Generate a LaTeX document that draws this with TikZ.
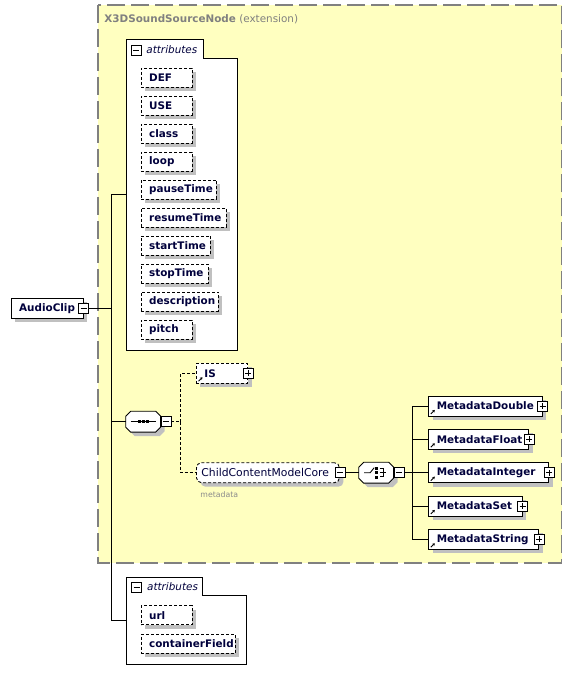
\documentclass[tikz,border=0pt]{standalone}
\usepackage{fontspec}
\setmainfont{DejaVu Sans}
\usetikzlibrary{arrows.meta}
\definecolor{navy}{RGB}{0,0,60}
\definecolor{yel}{RGB}{255,255,192}
\definecolor{bordergray}{RGB}{128,128,128}
\definecolor{shadowcol}{RGB}{192,192,192}
\definecolor{metagray}{RGB}{140,140,140}
\newcommand{\octpath}[1]{([xshift=5pt]#1.north west) -- ([xshift=-5pt]#1.north east) -- ([yshift=-5pt]#1.north east) -- ([yshift=5pt]#1.south east) -- ([xshift=-5pt]#1.south east) -- ([xshift=5pt]#1.south west) -- ([yshift=5pt]#1.south west) -- ([yshift=-5pt]#1.north west) -- cycle}
\begin{document}
\begin{tikzpicture}[x=1pt,y=-1pt,line width=0.9pt,
  shadowed/.style={preaction={fill=shadowcol, draw=none, transform canvas={xshift=4pt,yshift=-4pt}}},
  elem/.style={shadowed, draw=black, fill=white, minimum height=20pt, inner xsep=8pt, inner ysep=0pt, anchor=west, align=left, text=navy, font=\fontsize{10.4}{12}\selectfont\bfseries},
  attr/.style={elem, dash pattern=on 3pt off 2pt, minimum height=19pt},
  pmbox/.style={draw=black, fill=white, minimum size=10pt, inner sep=0pt, line width=0.8pt},
  minusbox/.style={pmbox, path picture={\draw[line width=0.8pt] ([xshift=2pt]path picture bounding box.west) -- ([xshift=-2pt]path picture bounding box.east);}},
  plusbox/.style={pmbox, path picture={\draw[line width=0.8pt] ([xshift=2pt]path picture bounding box.west) -- ([xshift=-2pt]path picture bounding box.east) ([yshift=-2pt]path picture bounding box.north) -- ([yshift=2pt]path picture bounding box.south);}},
  conn/.style={draw=black, line width=0.9pt},
  dconn/.style={conn, dash pattern=on 3pt off 2pt},
  icon/.style={line width=0.9pt, -{Stealth[length=2.5pt,width=3pt]}},
  octbox/.style={minimum width=34pt, minimum height=20pt, inner sep=0pt},
  octo/.style={draw=black, fill=white, shadowed},
  tabbox/.style={draw=black, fill=white, line width=0.9pt},
  tablabel/.style={anchor=west, text=navy, font=\fontsize{10.4}{12}\selectfont\itshape, inner sep=0pt},
]
\useasboundingbox (0,0) rectangle (576,684);

% extension frame
\draw[fill=yel, draw=bordergray, line width=1.2pt, dash pattern=on 18pt off 6pt] (98,5) rectangle (561.5,563);
\node[anchor=west, text=bordergray, font=\fontsize{10.4}{12}\selectfont, inner sep=0pt] (title) at (104,19.5) {\textbf{X3DSoundSourceNode} (extension)};

% top attributes box
\draw[tabbox] (126,39.3) -- (203,39.3) -- (203,58) -- (237,58) -- (237,350) -- (126,350) -- cycle;
\node[minusbox] (attm1) at (136,50.5) {};
\node[tablabel] (attl1) at (146,49.5) {attributes};

\node[attr, text width=35pt] (def) at (140.7,77.5) {DEF};
\node[attr, text width=35pt] (use) at (140.7,105.5) {USE};
\node[attr, text width=35pt] (class) at (140.7,133.5) {class};
\node[attr, text width=35pt] (loop) at (140.7,161.5) {loop};
\node[attr, text width=59.3pt] (pause) at (140.7,189.5) {pauseTime};
\node[attr, text width=69pt] (resume) at (140.7,217.5) {resumeTime};
\node[attr, text width=53.3pt] (start) at (140.7,245.5) {startTime};
\node[attr, text width=51pt] (stop) at (140.7,273.5) {stopTime};
\node[attr, text width=61.3pt] (descr) at (140.7,301.5) {description};
\node[attr, text width=35pt] (pitch) at (140.7,329.5) {pitch};

% bottom attributes box
\draw[tabbox] (126.7,577.3) -- (202.7,577.3) -- (202.7,595) -- (246,595) -- (246,664) -- (126.7,664) -- cycle;
\node[minusbox] (attm2) at (136.7,587.3) {};
\node[tablabel] (attl2) at (146.7,586.5) {attributes};
\node[attr, text width=35pt] (url) at (140.7,615.3) {url};
\node[attr, text width=78.3pt] (cf) at (140.7,643.7) {containerField};

% AudioClip
\node[elem, text width=56pt] (ac) at (10.7,308.3) {AudioClip};
\node[minusbox] (acm) at (ac.east) {};

% sequence
\node[octbox] (seq) at (143.2,421.7) {};
\path[octo] \octpath{seq};
\draw[line width=1pt] ([xshift=-12.5pt]seq.center) -- ([xshift=13pt]seq.center);
\fill ([xshift=-4pt]seq.center) +(-1.4,-1.4) rectangle +(1.4,1.4);
\fill (seq.center) +(-1.4,-1.4) rectangle +(1.4,1.4);
\fill ([xshift=4pt]seq.center) +(-1.4,-1.4) rectangle +(1.4,1.4);
\node[minusbox, anchor=west] (seqm) at (seq.east) {};

% IS
\node[attr, minimum height=20pt, text width=35.3pt] (is) at (196,373.3) {IS};
\node[plusbox] (isp) at (is.east) {};
\draw[icon] ([shift={(2.5,-2.5)}]is.south west) -- ++(4,-4);

% ChildContentModelCore
\node[elem, dash pattern=on 3pt off 2pt, rounded corners=5pt, font=\fontsize{10.8}{12}\selectfont, inner xsep=5pt, text width=133pt] (ccmc) at (196,472.7) {ChildContentModelCore};
\node[minusbox] (ccmcm) at (ccmc.east) {};
\node[anchor=west, text=metagray, font=\fontsize{7.8}{9}\selectfont, inner sep=0pt] (mdlabel) at (200,495) {metadata};

% choice
\node[octbox] (ch) at (376.2,472.7) {};
\path[octo] \octpath{ch};
\draw[line width=0.9pt] ([xshift=-12pt]ch.center) -- ([xshift=-6pt]ch.center) -- ([shift={(-2,-5)}]ch.center);
\fill ([shift={(0.5,-4.5)}]ch.center) +(-1.3,-1.3) rectangle +(1.3,1.3);
\fill ([shift={(0.5,0)}]ch.center) +(-1.3,-1.3) rectangle +(1.3,1.3);
\fill ([shift={(0.5,4.5)}]ch.center) +(-1.3,-1.3) rectangle +(1.3,1.3);
\draw[line width=0.9pt] ([shift={(3.5,-4)}]ch.center) -- ([shift={(7,-4)}]ch.center) -- ([shift={(7,4)}]ch.center) -- ([shift={(3.5,4)}]ch.center);
\draw[line width=0.9pt] ([shift={(3.5,0)}]ch.center) -- ([shift={(9.5,0)}]ch.center);
\node[minusbox, anchor=west] (chm) at (ch.east) {};

% metadata children
\node[elem, text width=97.4pt] (md1) at (428.3,406) {MetadataDouble};
\node[elem, text width=84pt] (md2) at (428.3,439.3) {MetadataFloat};
\node[elem, text width=104pt] (md3) at (428.3,472.7) {MetadataInteger};
\node[elem, text width=77.4pt] (md4) at (428.3,506) {MetadataSet};
\node[elem, text width=94pt] (md5) at (428.3,539.3) {MetadataString};
\foreach \m in {md1,md2,md3,md4,md5}{
  \node[plusbox] (\m p) at (\m.east) {};
  \draw[icon] ([shift={(2.5,-2.5)}]\m.south west) -- ++(4,-4);
}

% connectors
\coordinate (tr1) at (111,194.7);
\coordinate (tr2) at (111,620.7);
\coordinate (ab1) at (126,194.7);
\coordinate (ab2) at (126.7,620.7);
\draw[conn] (ab1) -- (tr1) -- (tr2) -- (ab2);
\draw[conn] (acm.east) -- (acm.east -| tr1);
\draw[conn] (seq.west) -- (seq.west -| tr1);
\coordinate (sb) at (180.7,421.7);
\draw[dconn] (seqm.east) -- (sb);
\draw[dconn] (sb) |- (is.west);
\draw[dconn] (sb) |- (ccmc.west);
\draw[conn] (ccmcm.east) -- (ch.west);
\coordinate (ct) at (412.7,472.7);
\draw[conn] (chm.east) -- (ct);
\draw[conn] (md1.west) -| (ct) |- (md5.west);
\draw[conn] (md2.west) -- (md2.west -| ct);
\draw[conn] (md3.west) -- (md3.west -| ct);
\draw[conn] (md4.west) -- (md4.west -| ct);
\end{tikzpicture}
\end{document}
